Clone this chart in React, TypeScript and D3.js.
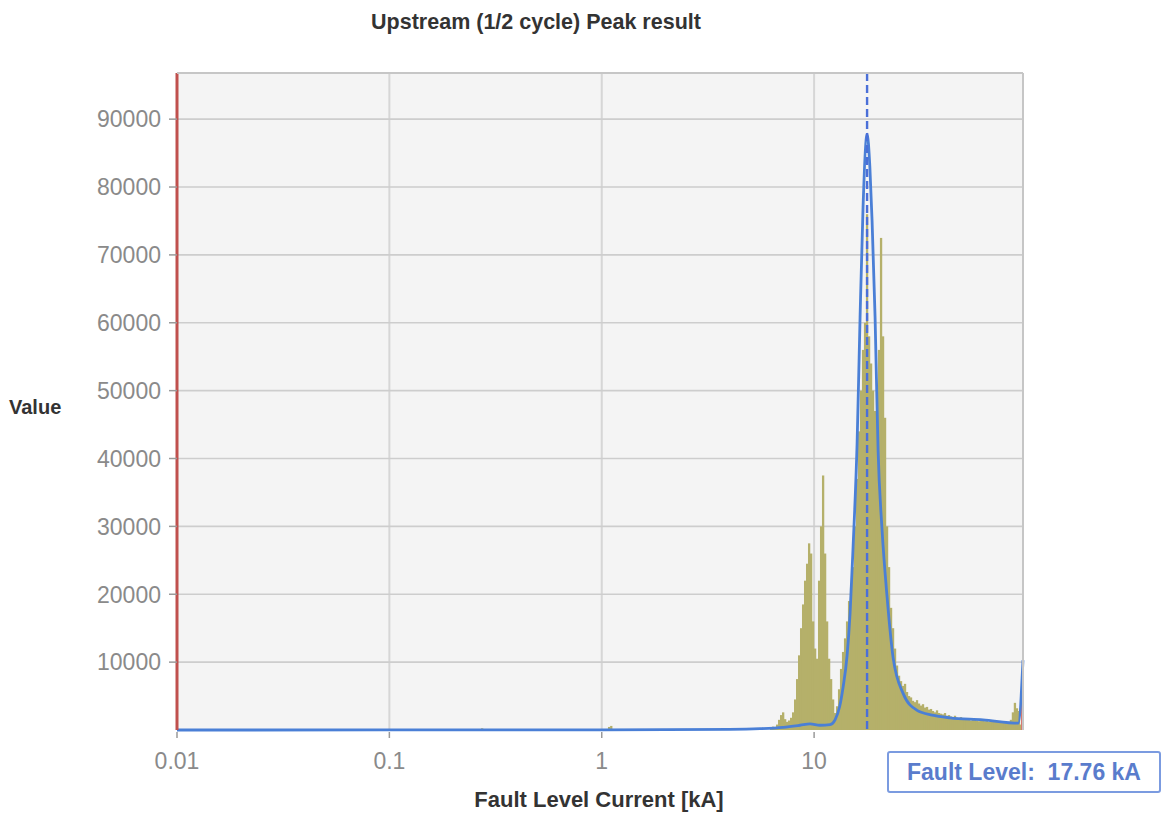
import React from "react";
import * as d3 from "d3";

// Axis ticks
const X_TICKS = [0.01, 0.1, 1, 10];
const Y_TICKS = [10000, 20000, 30000, 40000, 50000, 60000, 70000, 80000, 90000];

// Axis extents
const X_DOMAIN: [number, number] = [0.01, 96.3];
const Y_DOMAIN: [number, number] = [0, 96800];

// Fault level marker
const FAULT_LEVEL_KA = 17.76;

// Histogram: first bin edge (kA) and constant log-spaced bin ratio
const HIST_START_KA = 6.2;
const HIST_BIN_RATIO = 1.0219;
const HIST_VALUES = [
  300, 500, 400, 800, 1500, 2200, 2600, 1600, 1200, 1400,
  1800, 2600, 4500, 7500, 11000, 15000, 18500, 22000, 24500, 27500,
  26000, 16000, 12000, 10500, 22000, 30000, 37500, 26000, 16000, 10500,
  7500, 4500, 2500, 3500, 6000, 9000, 11500, 13500, 16000, 19000,
  21000, 24000, 30000, 37000, 44000, 50000, 56000, 60000, 76000, 58000,
  54000, 50000, 47000, 50000, 56000, 72500, 58000, 46000, 30000, 24000,
  18000, 15000, 12000, 9500, 8000, 7200, 6500, 6800, 5600, 5000,
  4800, 4300, 4100, 4400, 3900, 3600, 3800, 3300, 3400, 3000,
  3100, 2800, 2600, 2900, 2500, 2400, 2300, 2500, 2100, 2200,
  2000, 1900, 2100, 1800, 1700, 1900, 1600, 1700, 1500, 1600,
  1400, 1500, 1600, 1400, 1300, 1500, 1400, 1300, 1400, 1200,
  1300, 1400, 1200, 1300, 1200, 1100, 1300, 1200, 1100, 1200,
  1500, 2600, 4000, 3200, 2800, 800,
];

// Isolated low-current bins
const MINOR_BIN_KA = [0.27, 1.07, 1.095];
const MINOR_BIN_VALUES = [250, 450, 600];

// Fitted distribution curve
const CURVE_KA = [
  0.01, 1, 4, 5.57, 7.15, 8.59, 9.57, 10.67, 11.9, 12.55, 13.2, 13.69, 14.3,
  14.77, 15.26, 15.94, 16.46, 17.0, 17.76, 18.3, 18.75, 19.37, 20.01, 20.89,
  22.06, 23.54, 26.24, 30.53, 36, 43.65, 62.4, 91.5, 96.3,
];
const CURVE_VALUES = [
  0, 30, 100, 200, 400, 700, 900, 700, 800, 1500, 3500, 6300, 11000,
  17200, 27000, 42300, 60800, 77000, 87800, 83000, 75000, 60800, 41200, 29500,
  19600, 10700, 5400, 2900, 2200, 1800, 1500, 1000, 10300,
];

const W = 1168;
const H = 815;
const M = { left: 177, right: 1023, top: 73, bottom: 730 };
const FONT = "'Liberation Sans', Arial, Helvetica, sans-serif";

export default function App() {
  const x = d3.scaleLog().domain(X_DOMAIN).range([M.left, M.right]);
  const y = d3.scaleLinear().domain(Y_DOMAIN).range([M.bottom, M.top]);

  const bins = HIST_VALUES.map((v, i) => {
    const lo = HIST_START_KA * Math.pow(HIST_BIN_RATIO, i);
    const hi = lo * HIST_BIN_RATIO;
    return { lo, hi, v };
  });
  const minor = MINOR_BIN_KA.map((k, i) => ({
    lo: k,
    hi: k * HIST_BIN_RATIO,
    v: MINOR_BIN_VALUES[i],
  }));

  const line = d3
    .line<number>()
    .x((_, i) => x(CURVE_KA[i]))
    .y((d) => y(d))
    .curve(d3.curveMonotoneX);
  const curvePath = line(CURVE_VALUES) || "";

  const fx = x(FAULT_LEVEL_KA);

  return (
    <svg
      width={W}
      height={H}
      style={{ position: "absolute", left: 0, top: 0, background: "#fff" }}
      fontFamily={FONT}
    >
      {/* plot background */}
      <rect
        x={M.left}
        y={M.top}
        width={M.right - M.left}
        height={M.bottom - M.top}
        fill="#f4f4f4"
      />

      {/* grid */}
      {X_TICKS.map((t) => (
        <line
          key={"gx" + t}
          x1={x(t)}
          x2={x(t)}
          y1={M.top}
          y2={M.bottom}
          stroke="#d6d6d6"
          strokeWidth={2}
        />
      ))}
      {Y_TICKS.map((t) => (
        <line
          key={"gy" + t}
          x1={M.left}
          x2={M.right}
          y1={y(t)}
          y2={y(t)}
          stroke="#cdcdcd"
          strokeWidth={1.6}
        />
      ))}

      {/* histogram */}
      <g fill="#b5b06a">
        {[...minor, ...bins].map((b, i) => (
          <rect
            key={"b" + i}
            x={x(b.lo)}
            width={Math.max(0.8, x(b.hi) - x(b.lo) + 0.3)}
            y={y(b.v)}
            height={y(0) - y(b.v)}
          />
        ))}
      </g>

      {/* right-hand limit marker */}
      <line
        x1={x(X_DOMAIN[1]) - 1}
        x2={x(X_DOMAIN[1]) - 1}
        y1={y(0)}
        y2={y(4000)}
        stroke="#d87a70"
        strokeWidth={2}
      />

      {/* fitted curve */}
      <path d={curvePath} fill="none" stroke="#4a7fd6" strokeWidth={2.8} />

      {/* fault level */}
      <line
        x1={fx}
        x2={fx}
        y1={M.top}
        y2={M.bottom}
        stroke="#4a6fd8"
        strokeWidth={2.4}
        strokeDasharray="8,4"
      />

      {/* left limit marker */}
      <line
        x1={x(X_DOMAIN[0])}
        x2={x(X_DOMAIN[0])}
        y1={M.top}
        y2={M.bottom}
        stroke="#c0504d"
        strokeWidth={3}
      />

      {/* frame */}
      <line x1={M.left} x2={M.right} y1={M.top} y2={M.top} stroke="#c6c6c6" strokeWidth={2} />
      <line x1={M.right} x2={M.right} y1={M.top} y2={M.bottom} stroke="#c6c6c6" strokeWidth={2} />

      {/* y ticks */}
      {Y_TICKS.map((t) => (
        <g key={"ty" + t}>
          <line x1={M.left - 8} x2={M.left} y1={y(t)} y2={y(t)} stroke="#9a9a9a" strokeWidth={1.5} />
          <text
            x={M.left - 16}
            y={y(t)}
            dy="0.36em"
            textAnchor="end"
            fontSize={23}
            fill="#8a8a8a"
          >
            {t}
          </text>
        </g>
      ))}

      {/* x ticks */}
      {X_TICKS.map((t) => (
        <g key={"tx" + t}>
          <line x1={x(t)} x2={x(t)} y1={M.bottom + 2} y2={M.bottom + 8} stroke="#9a9a9a" strokeWidth={1.5} />
          <text x={x(t)} y={M.bottom + 39} textAnchor="middle" fontSize={23} fill="#8a8a8a">
            {t}
          </text>
        </g>
      ))}

      {/* titles */}
      <text x={536} y={29} textAnchor="middle" fontSize={21.5} fontWeight="bold" fill="#333">
        Upstream (1/2 cycle) Peak result
      </text>
      <text x={9} y={414} fontSize={20} fontWeight="bold" fill="#333">
        Value
      </text>
      <text x={599} y={807} textAnchor="middle" fontSize={22} fontWeight="bold" fill="#333">
        Fault Level Current [kA]
      </text>

      {/* fault level label */}
      <rect x={888} y={752} width={272} height={40} rx={2} fill="#fff" stroke="#7b9be0" strokeWidth={2} />
      <text
        x={1024}
        y={780}
        textAnchor="middle"
        fontSize={23}
        fontWeight="bold"
        fill="#5a7ccc"
        style={{ whiteSpace: "pre" }}
      >
        {"Fault Level:  " + FAULT_LEVEL_KA.toFixed(2) + " kA"}
      </text>
    </svg>
  );
}
